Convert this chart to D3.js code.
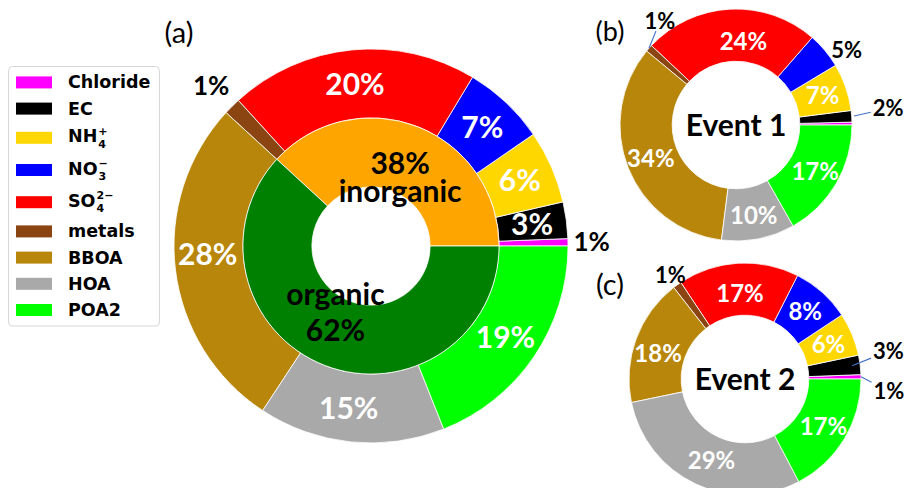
<!DOCTYPE html>
<html>
<head>
<meta charset="utf-8">
<script src="https://cdn.jsdelivr.net/npm/d3@7"></script>
<style>
  body { margin: 0; background: #fff; }
  svg { display: block; }
</style>
</head>
<body>
<svg id="chart" width="905" height="488"></svg>
<script>
// ---- data -------------------------------------------------------------
const species = ["Chloride", "EC", "NH4", "NO3", "SO4", "metals", "BBOA", "HOA", "POA2"];
const speciesColors = ["#ff00ff", "#000000", "#ffd700", "#0000ff", "#ff0000",
                       "#8b4513", "#b8860b", "#a9a9a9", "#00ff00"];
// mass fractions (%) in the order above
const overallShares = [0.6, 3.0, 6.0, 6.8, 20.4, 1.4, 27.6, 15.3, 19.0];
const event1Shares  = [0.4, 1.6, 6.6, 5.0, 24.4, 1.0, 34.0, 10.2, 16.8];
const event2Shares  = [0.6, 2.7, 6.0, 8.2, 16.8, 1.2, 17.7, 29.4, 17.3];
const groupNames  = ["inorganic", "organic"];
const groupColors = ["#ffa500", "#008000"];
const inorganicCount = 6;   // Chloride .. metals are inorganic, the rest organic
const eventNames = ["Event 1", "Event 2"];
const panelTags = ["(a)", "(b)", "(c)"];
// legend entries: main text plus optional stacked super/subscript
const legendLabels = [
  { main: "Chloride" }, { main: "EC" },
  { main: "NH", sup: "+", sub: "4" },
  { main: "NO", sup: "\u2212", sub: "3" },
  { main: "SO", sup: "2\u2212", sub: "4" },
  { main: "metals" }, { main: "BBOA" }, { main: "HOA" }, { main: "POA2" }
];

// ---- helpers ----------------------------------------------------------
const svg = d3.select("#chart");
const pctFont = "Lato, 'Open Sans', sans-serif";
const legFont = "'DejaVu Sans', sans-serif";
const toRad = Math.PI / 180;
const pct = v => Math.round(v) + "%";

// wedges start at 3 o'clock and run counter-clockwise
const pie = d3.pie().sort(null)
  .startAngle(Math.PI / 2)
  .endAngle(Math.PI / 2 - 2 * Math.PI);

// point at a math angle (deg, ccw from east) and radius
function polar(deg, r) {
  return d3.pointRadial(Math.PI / 2 - deg * toRad, r);
}
function midDeg(d) {
  return 90 - ((d.startAngle + d.endAngle) / 2) / toRad;
}

function addText(g, x, y, str, fs, color, weight, family) {
  return g.append("text")
    .attr("x", x).attr("y", y + 0.36 * fs)
    .attr("text-anchor", "middle")
    .attr("font-family", family || pctFont)
    .attr("font-weight", weight || "bold")
    .attr("font-size", fs)
    .attr("fill", color)
    .text(str);
}

// two centred lines in one text element
function addTwoLines(g, x, y, lines, fs, gap) {
  const t = g.append("text")
    .attr("text-anchor", "middle")
    .attr("font-family", pctFont).attr("font-weight", "bold")
    .attr("font-size", fs).attr("fill", "#000");
  t.append("tspan").attr("x", x).attr("y", y - gap / 2 + 0.36 * fs).text(lines[0]);
  t.append("tspan").attr("x", x).attr("y", y + gap / 2 + 0.36 * fs).text(lines[1]);
  return t;
}

// ---- panels -----------------------------------------------------------
// label spec per wedge: null = no label; in = inside (radius factor);
// out = outside at mid angle; ang/r = placed label; lead = leader start radius
const panels = [
  {
    values: overallShares, cx: 371, cy: 246, R: 197, ringIn: 0.65, hole: 0.30,
    inFs: 30, outFs: 26, tag: { x: 179, y: 33, fs: 29 },
    labels: [
      { out: 1.12 }, { in: 0.825 }, { in: 0.825 }, { in: 0.825 }, { in: 0.825 },
      { out: 1.15 }, { in: 0.83, da: -4 }, { in: 0.83, da: -2 }, { in: 0.825 }
    ]
  },
  {
    values: event1Shares, cx: 736, cy: 125, R: 116, ringIn: 0.55, hole: 0.55,
    inFs: 24, outFs: 22, tag: { x: 610, y: 31, fs: 27 }, center: eventNames[0],
    labels: [
      null, { ang: 6.2, r: 1.32, lead: 1.02 }, { in: 0.79 }, { ang: 34, r: 1.15 },
      { in: 0.72, da: -8 }, { ang: 126.2, r: 1.11, lead: 1.0 },
      { in: 0.79 }, { in: 0.79 }, { in: 0.79 }
    ]
  },
  {
    values: event2Shares, cx: 745, cy: 379, R: 116, ringIn: 0.55, hole: 0.55,
    inFs: 24, outFs: 22, tag: { x: 610, y: 285, fs: 29 }, center: eventNames[1],
    labels: [
      { ang: -4.8, r: 1.245, lead: 1.0 }, { ang: 11, r: 1.26, lead: 0.93 },
      { in: 0.78 }, { in: 0.78 }, { in: 0.74 }, { out: 1.1 },
      { in: 0.78, da: 4 }, { in: 0.76, da: 3 }, { in: 0.79 }
    ]
  }
];

panels.forEach((p, pi) => {
  const g = svg.append("g").attr("transform", `translate(${p.cx},${p.cy})`);
  const arcs = pie(p.values);
  const R = p.R;

  // species ring
  const arc = d3.arc().innerRadius(R * p.ringIn).outerRadius(R);
  g.selectAll("path.species").data(arcs).join("path")
    .attr("class", "species")
    .attr("d", arc)
    .attr("fill", (d, i) => speciesColors[i])
    .attr("stroke", "#fff").attr("stroke-width", 0.8);

  // inner inorganic / organic ring for the overall panel
  if (p.ringIn > p.hole) {
    const sums = [d3.sum(p.values.slice(0, inorganicCount)),
                  d3.sum(p.values.slice(inorganicCount))];
    const gArcs = pie(sums);
    const gArc = d3.arc().innerRadius(R * p.hole).outerRadius(R * p.ringIn);
    g.selectAll("path.group").data(gArcs).join("path")
      .attr("class", "group")
      .attr("d", gArc)
      .attr("fill", (d, i) => groupColors[i])
      .attr("stroke", "#fff").attr("stroke-width", 0.8);

    // stacked text: percent + name
    const lines = [
      [pct(sums[0]), groupNames[0]],
      [groupNames[1], pct(sums[1])]
    ];
    const spacing = [28, 36];
    const nudge = [-1.5, -7];
    gArcs.forEach((d, i) => {
      const [x, y] = polar(midDeg(d) + nudge[i], 75);
      addTwoLines(g, x, y, lines[i], 30, spacing[i]);
    });
  }

  // wedge labels
  arcs.forEach((d, i) => {
    const spec = p.labels[i];
    if (!spec) return;
    const txt = pct(p.values[i]);
    if (spec.in !== undefined) {
      const [x, y] = polar(midDeg(d) + (spec.da || 0), R * spec.in);
      addText(g, x, y, txt, p.inFs, "#fff");
      return;
    }
    const deg = spec.ang !== undefined ? spec.ang : midDeg(d);
    const rf = spec.ang !== undefined ? spec.r : spec.out;
    const [x, y] = polar(deg, R * rf);
    const t = addText(g, x, y, txt, p.outFs, "#000");
    if (spec.lead) {
      const [sx, sy] = polar(midDeg(d), R * spec.lead);
      const w = t.node().getComputedTextLength();
      const h = 0.72 * p.outFs;
      const dx = x - sx, dy = y - sy;
      const k = Math.min((w / 2 + 2) / Math.abs(dx || 1e-6), (h / 2 + 2) / Math.abs(dy || 1e-6));
      g.append("line")
        .attr("x1", sx).attr("y1", sy)
        .attr("x2", x - dx * k).attr("y2", y - dy * k)
        .attr("stroke", "#4472c4").attr("stroke-width", 1.1);
    }
  });

  if (p.center) addText(g, 0, 0, p.center, 30, "#000");

  addText(svg, p.tag.x, p.tag.y, panelTags[pi], p.tag.fs, "#000", "normal");
});

// ---- legend -----------------------------------------------------------
const leg = svg.append("g");
const box = leg.append("rect");
const legFs = 17.5, scriptFs = 11;
let cursor = 72.4, lastBottom = 0;
legendLabels.forEach((lab, i) => {
  const row = leg.append("g");
  const t = row.append("text")
    .attr("font-family", legFont).attr("font-weight", "bold")
    .attr("fill", "#000");
  const main = t.append("tspan")
    .attr("x", 68).attr("y", 0)
    .attr("font-size", legFs)
    .text(lab.main);
  const endX = 68 + main.node().getComputedTextLength() + 1;
  if (lab.sup) {
    t.append("tspan").attr("x", endX).attr("y", -7.5)
      .attr("font-size", scriptFs).text(lab.sup);
  }
  if (lab.sub) {
    t.append("tspan").attr("x", endX).attr("y", 5.5)
      .attr("font-size", scriptFs).text(lab.sub);
  }
  const bb = row.node().getBBox();
  const shift = cursor - bb.y;
  row.attr("transform", `translate(0,${shift})`);
  const mid = bb.y + bb.height / 2;
  row.append("rect")
    .attr("x", 16).attr("y", mid - 6)
    .attr("width", 36).attr("height", 12)
    .attr("fill", speciesColors[i]);
  lastBottom = cursor + bb.height;
  cursor += bb.height + 6.2;
});
box.attr("x", 8.5).attr("y", 66.5)
  .attr("width", 151).attr("height", lastBottom + 6 - 66.5)
  .attr("rx", 4).attr("fill", "#fff")
  .attr("stroke", "#d6d6d6").attr("stroke-width", 1);
</script>
</body>
</html>
